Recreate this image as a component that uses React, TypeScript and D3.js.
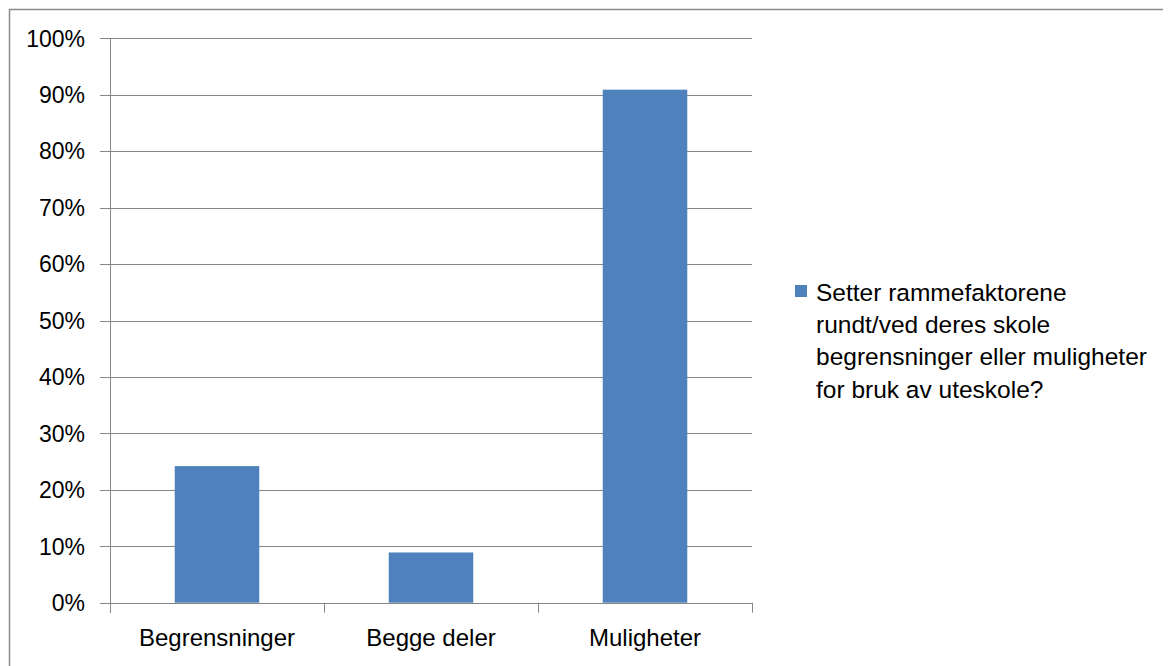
import React from "react";
import * as d3 from "d3";

const categories = ["Begrensninger", "Begge deler", "Muligheter"];
const values = [0.242, 0.089, 0.909];
const yTicks = [0, 0.1, 0.2, 0.3, 0.4, 0.5, 0.6, 0.7, 0.8, 0.9, 1.0];
const legendLines = [
  "Setter rammefaktorene",
  "rundt/ved deres skole",
  "begrensninger eller muligheter",
  "for bruk av uteskole?",
];

const W = 1163;
const H = 658;
const OX = 8;
const OY = 8;
const plot = { left: 110 - OX, right: 752 - OX, top: 38.3 - OY, bottom: 602.7 - OY };
const FONT = "'Liberation Sans', Arial, sans-serif";
const GRID = "#868686";
const BAR = "#4F81BD";

export default function App() {
  const x = d3
    .scaleBand<string>()
    .domain(categories)
    .range([plot.left, plot.right])
    .paddingInner(0.605)
    .paddingOuter(0.3025);
  const xOuter = d3.scaleBand<string>().domain(categories).range([plot.left, plot.right]);
  const y = d3.scaleLinear().domain([0, 1]).range([plot.bottom, plot.top]);
  const fmt = d3.format(".0%");
  const boundaries = [...categories.map((c) => xOuter(c) as number), plot.right];

  return (
    <svg width={W} height={H} style={{ display: "block" }}>
      <rect x={0} y={0} width={W} height={H} fill="#fff" />
      <rect x={1.5} y={1.5} width={W + 20} height={H + 20} fill="none" stroke="#8a8a8a" strokeWidth={1.5} />
      {yTicks.map((t) => (
        <g key={t}>
          <line x1={plot.left - 10} x2={plot.right} y1={Math.round(y(t)) + 0.5} y2={Math.round(y(t)) + 0.5} stroke={GRID} strokeWidth={1} />
          <text
            x={plot.left - 25}
            y={y(t)}
            dy="0.36em"
            textAnchor="end"
            fontFamily={FONT}
            fontSize={23}
            fill="#000"
          >
            {fmt(t)}
          </text>
        </g>
      ))}
      <line x1={plot.left + 0.5} x2={plot.left + 0.5} y1={plot.top} y2={plot.bottom + 10} stroke={GRID} />
      {boundaries.map((b, i) => (
        <line key={i} x1={Math.round(b) + 0.5} x2={Math.round(b) + 0.5} y1={plot.bottom} y2={plot.bottom + 10} stroke={GRID} />
      ))}
      {categories.map((c, i) => (
        <rect
          key={c}
          x={x(c) as number}
          y={y(values[i])}
          width={x.bandwidth()}
          height={plot.bottom - y(values[i])}
          fill={BAR}
        />
      ))}
      {categories.map((c) => (
        <text
          key={c}
          x={(xOuter(c) as number) + xOuter.bandwidth() / 2}
          y={637 - OY}
          dy="0.36em"
          textAnchor="middle"
          fontFamily={FONT}
          fontSize={24}
          fill="#000"
        >
          {c}
        </text>
      ))}
      <rect x={795 - OX} y={285 - OY} width={12} height={12} fill={BAR} />
      {legendLines.map((l, i) => (
        <text
          key={i}
          x={816 - OX}
          y={292 - OY + i * 32.3}
          dy="0.36em"
          fontFamily={FONT}
          fontSize={24.5}
          fill="#000"
        >
          {l}
        </text>
      ))}
    </svg>
  );
}
